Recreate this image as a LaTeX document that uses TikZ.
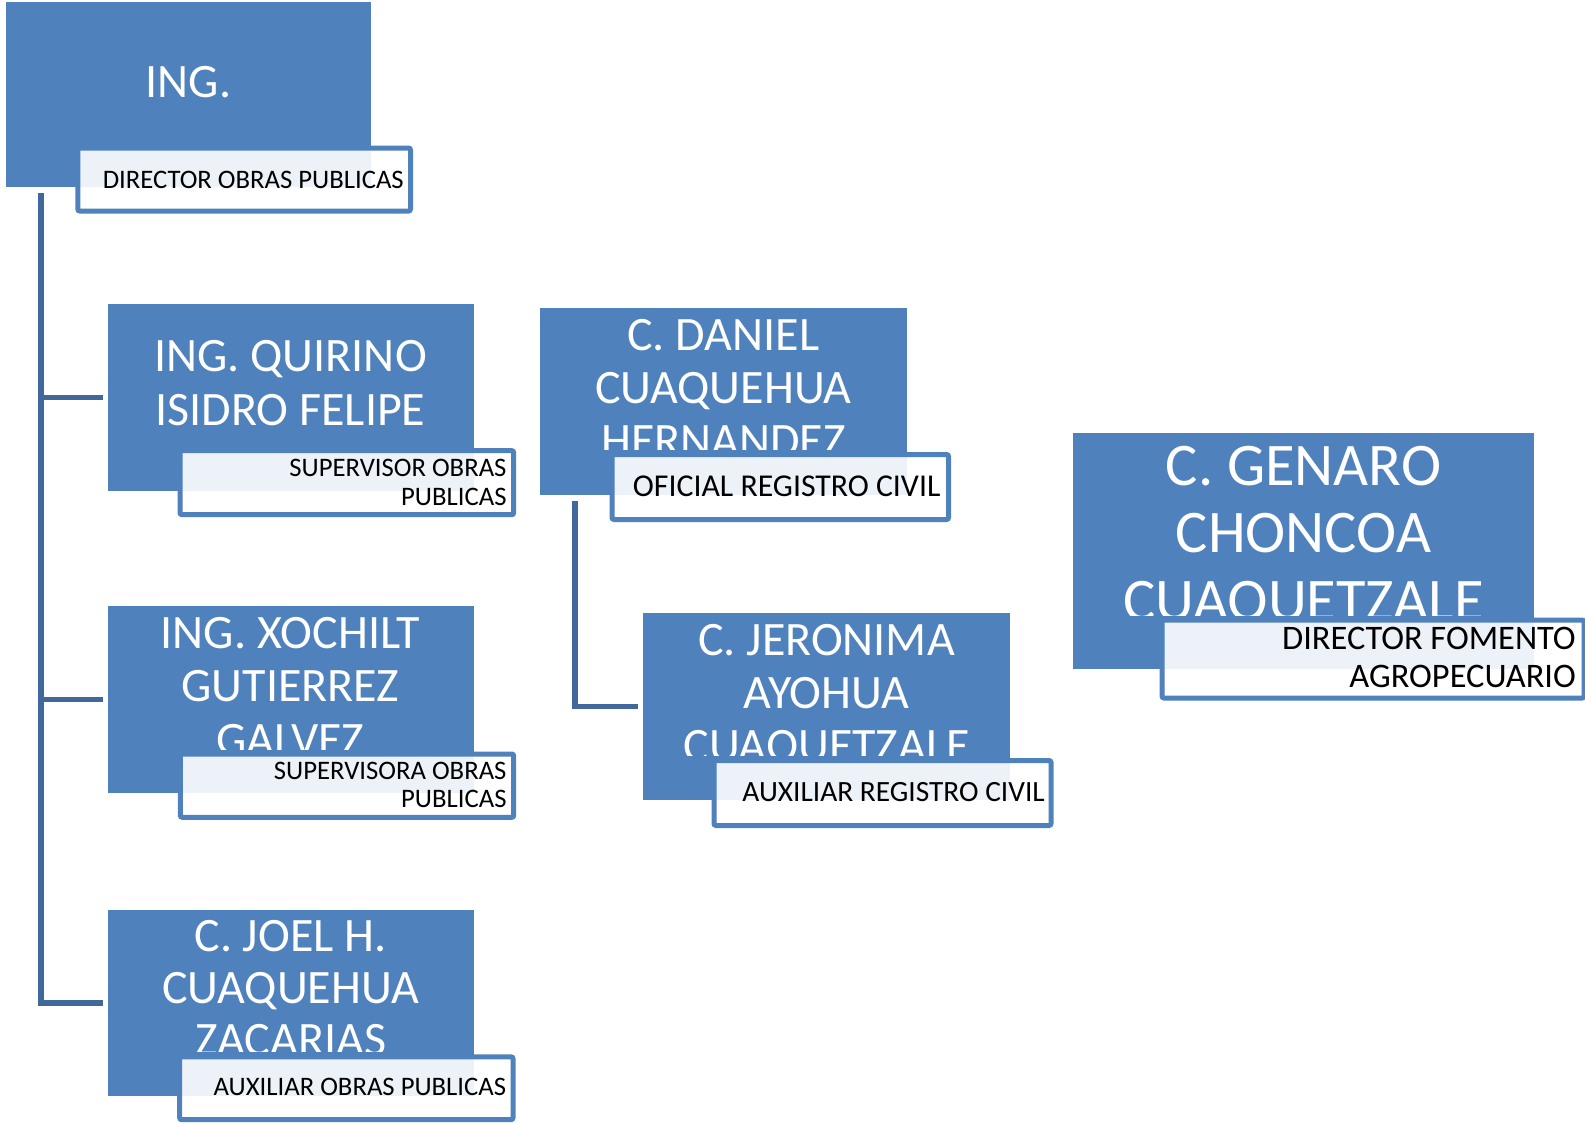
\documentclass[tikz,border=0pt]{standalone}
\usepackage{fontspec}
\setmainfont{Carlito}
\usetikzlibrary{calc}
\definecolor{boxblue}{RGB}{79,129,189}
\definecolor{connblue}{RGB}{64,104,154}
\tikzset{
  namebox/.style={fill=boxblue, draw=none, inner sep=0pt, anchor=north west},
  lblbox/.style={draw=boxblue, line width=5pt, fill=white, fill opacity=0.9, rounded corners=2pt, inner sep=0pt, anchor=north west},
  nametxt/.style={text=white, anchor=base, inner sep=0pt, font=\fontsize{48}{52}\selectfont},
  bignametxt/.style={text=white, anchor=base, inner sep=0pt, font=\fontsize{60.5}{66}\selectfont},
  lbltxt/.style={text=black, anchor=base east, inner sep=0pt, font=\fontsize{26.7}{28}\selectfont},
  conn/.style={draw=connblue, line width=5.5pt}
}
\begin{document}
\begin{tikzpicture}[x=1pt,y=-1pt]
\useasboundingbox (0,0) rectangle (1585,1122);

% ---------- Box 1
\node[namebox, minimum width=365pt, minimum height=185.3pt] (b1) at (6,1.7) {};
\begin{scope}
\clip (6,1.7) rectangle (371,143);
\node[nametxt] (t1a) at (188.5,97) {ING.};
\end{scope}
\node[lblbox, minimum width=332.7pt, minimum height=63pt] (l1) at (75.3,145.5) {};
\node[lbltxt] (s1a) at (404,188) {DIRECTOR OBRAS PUBLICAS};

% ---------- Box 2
\node[namebox, minimum width=365.6pt, minimum height=186.7pt] (b2) at (107.7,304) {};
\begin{scope}
\clip (107.7,304) rectangle (473.3,445.7);
\node[nametxt] (t2a) at (290.5,371.7) {ING. QUIRINO};
\node[nametxt] (t2b) at (290.5,425) {ISIDRO FELIPE};
\end{scope}
\node[lblbox, minimum width=333.7pt, minimum height=64pt] (l2) at (177.5,448.2) {};
\node[lbltxt] (s2a) at (506.7,476) {SUPERVISOR OBRAS};
\node[lbltxt] (s2b) at (506.7,505) {PUBLICAS};

% ---------- Box 3
\node[namebox, minimum width=365.8pt, minimum height=186.7pt] (b3) at (107.5,606) {};
\begin{scope}
\clip (107.5,606) rectangle (473.3,749);
\node[nametxt] (t3a) at (290.5,648.3) {ING. XOCHILT};
\node[nametxt] (t3b) at (290.5,701.7) {GUTIERREZ};
\node[nametxt] (t3c) at (290.5,755) {GALVEZ};
\end{scope}
\node[lblbox, minimum width=333.4pt, minimum height=63.3pt] (l3) at (177.8,751.5) {};
\node[lbltxt] (s3a) at (506.7,779) {SUPERVISORA OBRAS};
\node[lbltxt] (s3b) at (506.7,807) {PUBLICAS};

% ---------- Box 4
\node[namebox, minimum width=365.6pt, minimum height=186.7pt] (b4) at (107.7,909.3) {};
\begin{scope}
\clip (107.7,909.3) rectangle (473.3,1051.8);
\node[nametxt] (t4a) at (290.5,951.7) {C. JOEL H.};
\node[nametxt] (t4b) at (290.5,1003.3) {CUAQUEHUA};
\node[nametxt] (t4c) at (290.5,1055) {ZACARIAS};
\end{scope}
\node[lblbox, minimum width=333.3pt, minimum height=62.9pt] (l4) at (177.2,1054.3) {};
\node[lbltxt] (s4a) at (506.3,1095) {AUXILIAR OBRAS PUBLICAS};

% ---------- Box 5
\node[namebox, minimum width=366.5pt, minimum height=187pt] (b5) at (540,307.3) {};
\begin{scope}
\clip (540,307.3) rectangle (906.5,449.5);
\node[nametxt] (t5a) at (723.3,350) {C. DANIEL};
\node[nametxt] (t5b) at (723.3,403.3) {CUAQUEHUA};
\node[nametxt] (t5c) at (723.3,456.5) {HERNANDEZ};
\end{scope}
\node[lblbox, minimum width=336.5pt, minimum height=65pt] (l5) at (609.5,452) {};
\node[lbltxt, font=\fontsize{31.8}{33}\selectfont] (s5a) at (940.7,496.7) {OFICIAL REGISTRO CIVIL};

% ---------- Box 6
\node[namebox, minimum width=367pt, minimum height=187pt] (b6) at (643,612.7) {};
\begin{scope}
\clip (643,612.7) rectangle (1010,755.5);
\node[nametxt] (t6a) at (826.5,655) {C. JERONIMA};
\node[nametxt] (t6b) at (826.5,708.3) {AYOHUA};
\node[nametxt] (t6c) at (826.5,761.6) {CUAQUETZALE};
\end{scope}
\node[lblbox, minimum width=337pt, minimum height=65pt] (l6) at (711.5,758) {};
\node[lbltxt, font=\fontsize{29.4}{31}\selectfont] (s6a) at (1045,801.5) {AUXILIAR REGISTRO CIVIL};

% ---------- Box 7
\node[namebox, minimum width=461pt, minimum height=235.5pt] (b7) at (1073,433) {};
\begin{scope}
\clip (1073,433) rectangle (1534,615);
\node[bignametxt] (t7a) at (1303.5,485) {C. GENARO};
\node[bignametxt] (t7b) at (1303.5,552.7) {CHONCOA};
\node[bignametxt] (t7c) at (1303.5,620) {CUAQUETZALE};
\end{scope}
\node[lblbox, minimum width=422pt, minimum height=78pt] (l7) at (1159.5,617.5) {};
\node[lbltxt, font=\fontsize{34.4}{38}\selectfont] (s7a) at (1576,649.2) {DIRECTOR FOMENTO};
\node[lbltxt, font=\fontsize{34.4}{38}\selectfont] (s7b) at (1576,687.5) {AGROPECUARIO};

% ---------- Connectors
\coordinate (c1) at ($(b1.south west)+(35.2,6)$);
\draw[conn] (c1) |- ($(b4.west)+(-5,0)$);
\draw[conn] (c1 |- b2.west) -- ($(b2.west)+(-5,0)$);
\draw[conn] (c1 |- b3.west) -- ($(b3.west)+(-5,0)$);
\coordinate (c5) at ($(b5.south west)+(35,6.4)$);
\draw[conn] (c5) |- ($(b6.west)+(-5,0)$);
\end{tikzpicture}
\end{document}
